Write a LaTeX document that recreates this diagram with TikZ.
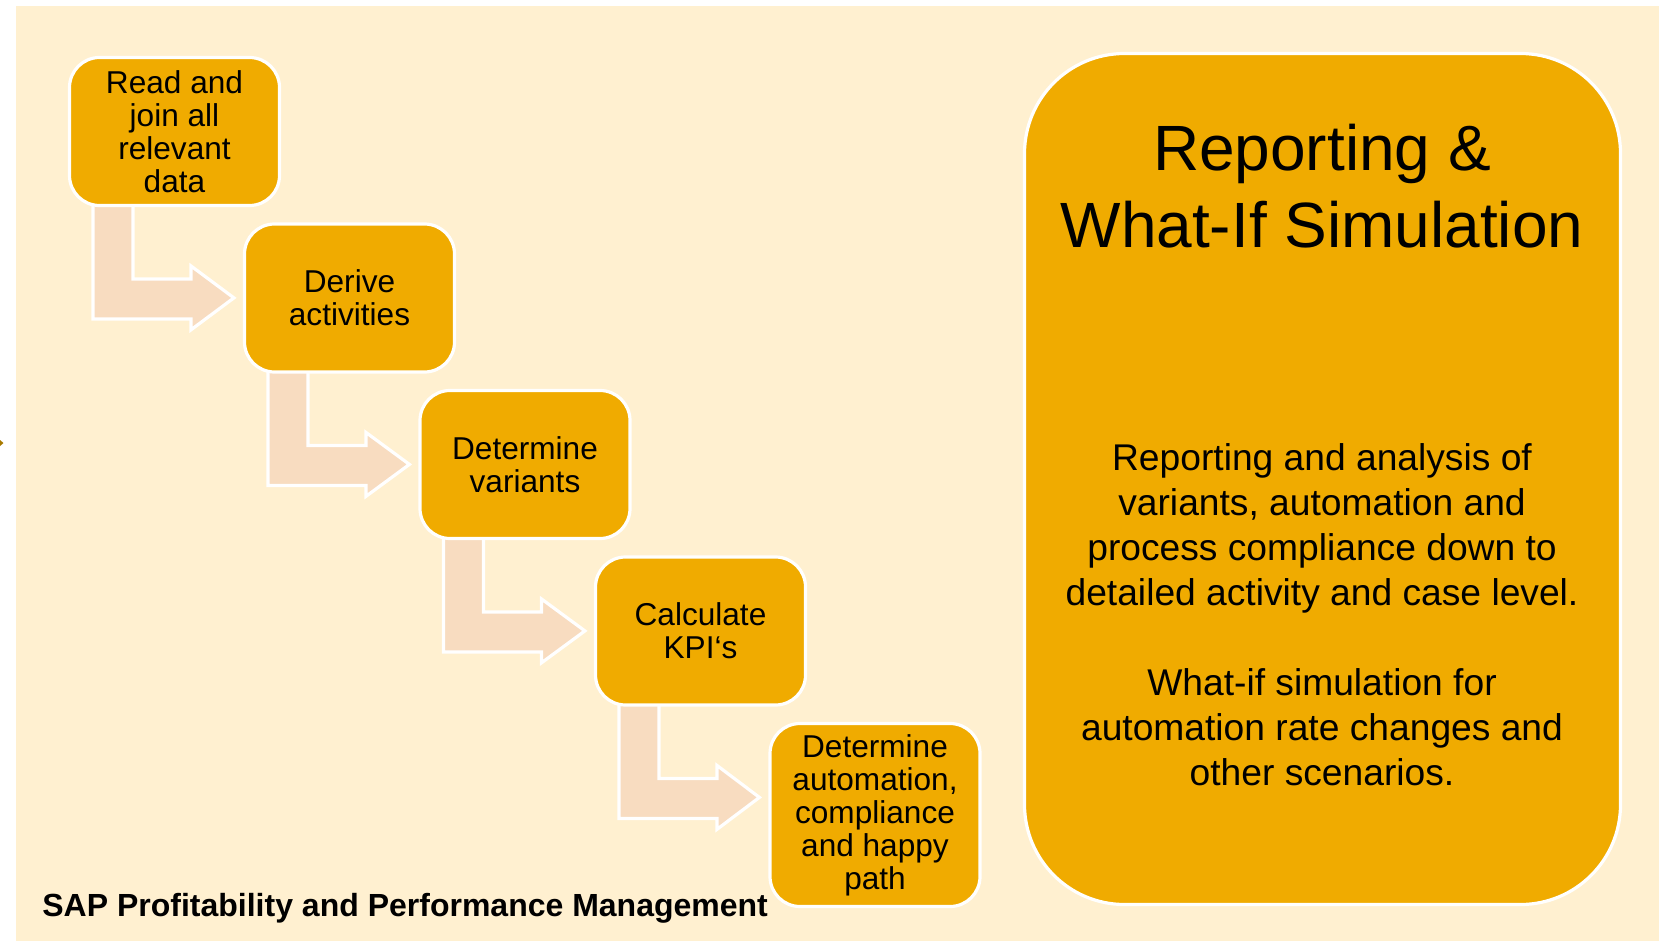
\documentclass[tikz,border=0pt]{standalone}
\usepackage{fontspec}
\setmainfont{Liberation Sans}
\usetikzlibrary{calc}
\definecolor{cream}{HTML}{FFF0D0}
\definecolor{sapgold}{HTML}{F0AB00}
\definecolor{peach}{HTML}{F8DCC0}
\definecolor{markgold}{HTML}{A87A00}
\pgfdeclarelayer{back}
\pgfdeclarelayer{mid}
\pgfsetlayers{back,mid,main}
\newcommand\bentarrow[2]{%
  \coordinate (tA) at ($(#1.north west)+(0,242)$);
  \coordinate (tB) at ($(#2.west)+(-9,0)$);
  \draw[blockarrow] ($(#1.north west)+(25,140)$) -- ($(#1.north west)+(65,140)$)
    -- ($(#1.north west)+(65,223)$) -- ($(#1.north west)+(123,223)$)
    -- ($(#1.north west)+(123,210)$) -- (tA -| tB)
    -- ($(#1.north west)+(123,274)$) -- ($(#1.north west)+(123,263)$)
    -- ($(#1.north west)+(25,263)$) -- cycle;}
\begin{document}
\begin{tikzpicture}[x=0.5pt,y=-0.5pt,
  stepbox/.style={draw=white, line width=1.6pt, fill=sapgold, rounded corners=15pt,
    minimum width=105pt, minimum height=74pt, inner sep=0pt, align=center,
    font=\fontsize{15.8}{16.5}\selectfont},
  bigbox/.style={draw=white, line width=1.6pt, fill=sapgold, rounded corners=50pt,
    minimum width=298pt, minimum height=425.5pt, inner sep=0pt},
  blockarrow/.style={draw=white, line width=1.6pt, fill=peach, line join=miter},
  plaintext/.style={inner sep=0pt, anchor=base},
]
\useasboundingbox (0,0) rectangle (1668,941);
\begin{pgfonlayer}{back}
  \fill[white] (0,0) rectangle (1668,941);
  \fill[cream] (16,6) rectangle (1659,941);
  \fill[markgold] (0,440) -- (3.5,443) -- (0,446) -- cycle;
\end{pgfonlayer}

\node[stepbox] (b1) at (174.5,131.5) {Read and\\join all\\relevant\\data};
\node[stepbox] (b2) at (349.5,298) {Derive\\activities};
\node[stepbox] (b3) at (525,464.5) {Determine\\variants};
\node[stepbox] (b4) at (700.5,631) {Calculate\\KPI‘s};
\node[stepbox, minimum height=91.5pt] (b5) at (875,815) {Determine\\automation,\\compliance\\and happy\\path};

\begin{pgfonlayer}{mid}
  \bentarrow{b1}{b2}
  \bentarrow{b2}{b3}
  \bentarrow{b3}{b4}
  \bentarrow{b4}{b5}
\end{pgfonlayer}

\node[bigbox] (big) at (1322.5,479) {};
\node[plaintext, font=\fontsize{32}{38}\selectfont] (title) at (1322,171)
  {\begin{tabular}[t]{@{}c@{}}Reporting \&\\What-If Simulation\end{tabular}};
\node[plaintext, font=\fontsize{18.6}{22.5}\selectfont] (body) at (1322,470)
  {\begin{tabular}[t]{@{}c@{}}Reporting and analysis of\\variants, automation and\\process compliance down to\\detailed activity and case level.\\ \\What-if simulation for\\automation rate changes and\\other scenarios.\end{tabular}};

\node[inner sep=0pt, anchor=base west, font=\bfseries\fontsize{16}{19}\selectfont] (label) at (42,916)
  {SAP Profitability and Performance Management};
\end{tikzpicture}
\end{document}
